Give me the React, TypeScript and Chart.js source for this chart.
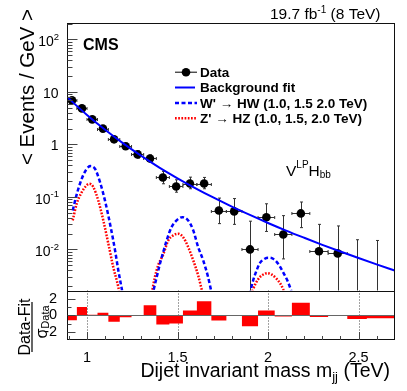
import React, { useEffect, useRef } from "react";
import { Chart, registerables } from "chart.js";

Chart.register(...registerables);

const FONT = "'Liberation Sans', Arial, Helvetica, sans-serif";

// ---- axis ranges ----
const xMin = 0.89;
const xMax = 2.7;
const yMin = 0.00165;
const yMax = 210;
const rMin = -3;
const rMax = 3;

// ---- dijet mass bins (TeV) ----
const binEdges = [0.89, 0.944, 1.0, 1.058, 1.118, 1.181, 1.246, 1.313, 1.383, 1.455, 1.53, 1.607, 1.687, 1.77, 1.856, 1.945, 2.037, 2.132, 2.231, 2.332, 2.438, 2.546, 2.659, 2.775];

// ---- data ----
const dataX = [0.917, 0.972, 1.029, 1.088, 1.1495, 1.2135, 1.2795, 1.348, 1.419, 1.4925, 1.5685, 1.647, 1.7285, 1.813, 1.9005, 1.991, 2.0845, 2.1815, 2.2815, 2.385, 2.492, 2.6025];
const dataY = [6.9, 4.85, 3.0, 2.0, 1.25, 0.92, 0.645, 0.54, 0.235, 0.158, 0.18, 0.18, 0.055, 0.053, 0.010, 0.041, 0.0193, 0.0485, 0.0092, 0.0084, 0, 0];
const dataYLow = [6.6, 4.6, 2.8, 1.82, 1.1, 0.8, 0.55, 0.46, 0.178, 0.123, 0.143, 0.143, 0.031, 0.030, 0, 0.022, 0.0066, 0.026, 0, 0, 0, 0];
const dataYHigh = [7.25, 5.15, 3.2, 2.2, 1.4, 1.05, 0.75, 0.63, 0.306, 0.212, 0.238, 0.235, 0.095, 0.093, 0.0345, 0.074, 0.044, 0.080, 0.030, 0.028, 0.0153, 0.0148];

// ---- (Data-Fit)/sigma per bin ----
const residuals = [-0.6, 1.0, 0.05, 0.3, -0.8, -0.25, 0.0, 1.2, -1.13, -1.0, 0.57, 1.7, -0.65, -0.05, -1.33, 0.57, -0.15, 1.53, -0.2, 0.0, -0.45, -0.36, -0.36];

// ---- background fit ----
const fitX = [0.89, 1.0, 1.1, 1.2, 1.3, 1.4, 1.5, 1.6, 1.7, 1.8, 1.9, 2.0, 2.1, 2.2, 2.3, 2.4, 2.5, 2.6, 2.7];
const fitY = [7.96, 3.64, 1.9, 1.045, 0.603, 0.362, 0.2265, 0.1459, 0.0965, 0.0653, 0.04533, 0.03191, 0.02284, 0.01665, 0.01224, 0.00912, 0.00685, 0.00519, 0.00396];

// ---- W' -> HW signals (1.0, 1.5, 2.0 TeV) ----
const wX1 = [0.921, 0.939, 0.961, 0.983, 1.007, 1.02, 1.044, 1.072, 1.099, 1.127, 1.155, 1.173, 1.192, 1.21];
const wY1 = [0.0553, 0.0991, 0.178, 0.277, 0.37, 0.386, 0.344, 0.191, 0.0858, 0.0309, 0.00957, 0.00398, 0.00178, 0.0008];
const wX2 = [1.36, 1.385, 1.403, 1.421, 1.44, 1.467, 1.495, 1.527, 1.559, 1.587, 1.614, 1.642, 1.669, 1.69];
const wY2 = [0.0013, 0.00297, 0.00534, 0.00889, 0.0148, 0.0266, 0.0357, 0.0412, 0.0357, 0.023, 0.0111, 0.00617, 0.00297, 0.0014];
const wX3 = [1.898, 1.918, 1.937, 1.955, 1.982, 2.001, 2.028, 2.056, 2.083, 2.111, 2.135];
const wY3 = [0.0014, 0.00257, 0.00398, 0.00548, 0.00665, 0.00695, 0.00665, 0.00534, 0.0037, 0.00238, 0.0014];

// ---- Z' -> HZ signals (1.0, 1.5, 2.0 TeV) ----
const zX1 = [0.921, 0.943, 0.971, 0.998, 1.013, 1.035, 1.062, 1.09, 1.118, 1.145, 1.173, 1.19];
const zY1 = [0.0357, 0.0742, 0.123, 0.166, 0.178, 0.154, 0.0858, 0.0357, 0.0128, 0.0046, 0.00191, 0.0009];
const zX2 = [1.355, 1.375, 1.393, 1.421, 1.449, 1.476, 1.504, 1.531, 1.559, 1.587, 1.614, 1.64];
const zY2 = [0.0013, 0.00297, 0.00496, 0.008, 0.0148, 0.0185, 0.0199, 0.0171, 0.0111, 0.00617, 0.0032, 0.0014];
const zX3 = [1.907, 1.931, 1.955, 1.982, 1.997, 2.019, 2.047, 2.074, 2.095];
const zY3 = [0.0014, 0.00222, 0.00297, 0.00344, 0.00354, 0.00334, 0.00277, 0.00206, 0.0014];

// ---- tick labels ----
const logTickValues = [100, 10, 1, 0.1, 0.01];
const logTickBase = ["10", "10", "1", "10", "10"];
const logTickExp = ["2", "", "", "-1", "-2"];
const xGridValues = [1, 1.5, 2, 2.5];
const residualTickValues = [-2, 0, 2];

// ---- legend ----
const legendLabels = ["Data", "Background fit", "W' \u2192 HW (1.0, 1.5 2.0 TeV)", "Z' \u2192 HZ (1.0, 1.5, 2.0 TeV)"];

type Part = { t: string; size: number; bold?: boolean; dy?: number };

function drawParts(ctx: CanvasRenderingContext2D, parts: Part[], x: number, y: number, align: "left" | "right" | "center") {
  let total = 0;
  const ws = parts.map((p) => {
    ctx.font = `${p.bold ? "bold " : ""}${p.size}px ${FONT}`;
    const w = ctx.measureText(p.t).width;
    total += w;
    return w;
  });
  let cx = align === "left" ? x : align === "right" ? x - total : x - total / 2;
  ctx.textAlign = "left";
  ctx.textBaseline = "alphabetic";
  parts.forEach((p, i) => {
    ctx.font = `${p.bold ? "bold " : ""}${p.size}px ${FONT}`;
    ctx.fillText(p.t, cx, y + (p.dy || 0));
    cx += ws[i];
  });
}

function seg(ctx: CanvasRenderingContext2D, x1: number, y1: number, x2: number, y2: number) {
  ctx.beginPath();
  ctx.moveTo(x1, y1);
  ctx.lineTo(x2, y2);
  ctx.stroke();
}

const pts = (xs: number[], ys: number[]) => xs.map((x, i) => ({ x, y: ys[i] }));

const overlayPlugin = {
  id: "overlay",
  beforeDatasetDraw(chart: any, args: any) {
    const ds = chart.data.datasets[args.index];
    const ys = chart.scales[ds.yAxisID];
    const ctx = chart.ctx;
    ctx.save();
    ctx.beginPath();
    ctx.rect(chart.chartArea.left, ys.top, chart.chartArea.right - chart.chartArea.left, ys.bottom - ys.top);
    ctx.clip();
  },
  afterDatasetDraw(chart: any) {
    chart.ctx.restore();
  },
  beforeDatasetsDraw(chart: any) {
    const ctx: CanvasRenderingContext2D = chart.ctx;
    const x = chart.scales.x;
    const y = chart.scales.y;
    const yr = chart.scales.yr;
    ctx.save();
    // residual dotted grid
    ctx.strokeStyle = "#444";
    ctx.lineWidth = 1;
    ctx.setLineDash([1, 2]);
    for (const v of xGridValues) {
      const px = Math.round(x.getPixelForValue(v)) + 0.5;
      seg(ctx, px, yr.top, px, yr.bottom);
    }
    ctx.setLineDash([]);
    // error bars (main panel)
    ctx.beginPath();
    ctx.rect(x.left, y.top, x.right - x.left, y.bottom - y.top);
    ctx.clip();
    ctx.strokeStyle = "#333";
    ctx.lineWidth = 1;
    for (let i = 0; i < dataX.length; i++) {
      const cx = Math.round(x.getPixelForValue(dataX[i])) + 0.5;
      const top = y.getPixelForValue(dataYHigh[i]);
      const bot = dataYLow[i] > 0 ? y.getPixelForValue(dataYLow[i]) : y.bottom + 2;
      seg(ctx, cx, top, cx, bot);
      seg(ctx, cx - 1.5, top, cx + 1.5, top);
      if (dataYLow[i] > 0) seg(ctx, cx - 1.5, bot, cx + 1.5, bot);
      if (dataY[i] > 0) {
        const cy = Math.round(y.getPixelForValue(dataY[i])) + 0.5;
        const xl = x.getPixelForValue(binEdges[i]);
        const xr = x.getPixelForValue(binEdges[i + 1]);
        seg(ctx, xl, cy, xr, cy);
        seg(ctx, xl, cy - 1.5, xl, cy + 1.5);
        seg(ctx, xr, cy - 1.5, xr, cy + 1.5);
      }
    }
    ctx.restore();
  },
  afterDatasetsDraw(chart: any) {
    const ctx: CanvasRenderingContext2D = chart.ctx;
    const x = chart.scales.x;
    const y = chart.scales.y;
    const yr = chart.scales.yr;
    ctx.save();
    const L = Math.round(x.left) + 0.5;
    const R = Math.round(x.right) - 0.5;
    // zero line of residual
    ctx.strokeStyle = "#666";
    ctx.lineWidth = 1;
    const z = Math.round(yr.getPixelForValue(0)) + 0.5;
    seg(ctx, L, z, R, z);
    // frames
    ctx.strokeStyle = "#111";
    ctx.strokeRect(L, Math.round(y.top) + 0.5, R - L, Math.round(y.bottom) - Math.round(y.top));
    ctx.strokeRect(L, Math.round(yr.top) + 0.5, R - L, Math.round(yr.bottom) - Math.round(yr.top) - 1);
    // log ticks
    ctx.strokeStyle = "#444";
    for (let d = -3; d <= 2; d++) {
      for (let m = 1; m <= 9; m++) {
        const v = m * Math.pow(10, d);
        if (v <= yMin || v >= yMax) continue;
        const py = Math.round(y.getPixelForValue(v)) + 0.5;
        seg(ctx, L, py, L + (m === 1 ? 10 : 5), py);
      }
    }
    // residual y ticks
    for (let v = rMin + 1; v <= rMax - 1; v++) {
      const py = Math.round(yr.getPixelForValue(v)) + 0.5;
      seg(ctx, L, py, L + (v % 2 === 0 ? 8 : 4), py);
    }
    // residual x ticks
    for (let k = 9; k <= 27; k++) {
      const px = Math.round(x.getPixelForValue(k / 10)) + 0.5;
      if (px <= L + 1 || px >= R - 1) continue;
      seg(ctx, px, yr.bottom, px, yr.bottom - (k % 5 === 0 ? 8 : 4));
    }
    ctx.restore();
  },
  afterDraw(chart: any) {
    const ctx: CanvasRenderingContext2D = chart.ctx;
    const y = chart.scales.y;
    ctx.save();
    ctx.fillStyle = "#000";
    // log axis labels
    for (let i = 0; i < logTickValues.length; i++) {
      const py = y.getPixelForValue(logTickValues[i]);
      if (logTickExp[i]) {
        drawParts(ctx, [{ t: logTickBase[i], size: 14 }, { t: logTickExp[i], size: 9.5, dy: -6.5 }], 59, py + 6.7, "right");
      } else {
        drawParts(ctx, [{ t: logTickBase[i], size: 14 }], 58.5, py + 5.8, "right");
      }
    }
    // y title
    ctx.save();
    ctx.translate(34, 9);
    ctx.rotate(-Math.PI / 2);
    drawParts(ctx, [{ t: "< Events / GeV >", size: 20.5 }], 0, 0, "right");
    ctx.restore();
    // residual title
    ctx.save();
    ctx.translate(30, 327);
    ctx.rotate(-Math.PI / 2);
    drawParts(ctx, [{ t: "Data-Fit", size: 16 }], 0, 0, "center");
    ctx.restore();
    ctx.strokeStyle = "#000";
    ctx.lineWidth = 1.2;
    seg(ctx, 32, 302, 32, 352);
    ctx.save();
    ctx.translate(46.5, 322);
    ctx.rotate(-Math.PI / 2);
    drawParts(ctx, [{ t: "\u03c3", size: 16 }, { t: "Data", size: 11, dy: 2.5 }], 0, 0, "center");
    ctx.restore();
    // x title
    drawParts(ctx, [{ t: "Dijet invariant mass m", size: 19.5 }, { t: "jj", size: 13, dy: 4 }, { t: " (TeV)", size: 19.5 }], 390, 376.5, "right");
    // lumi
    drawParts(ctx, [{ t: "19.7 fb", size: 15.5 }, { t: "-1", size: 10, dy: -6 }, { t: " (8 TeV)", size: 15.5 }], 380.5, 19, "right");
    // CMS
    drawParts(ctx, [{ t: "CMS", size: 16, bold: true }], 83, 50, "left");
    // category label
    drawParts(ctx, [{ t: "V", size: 15.5 }, { t: "LP", size: 10, dy: -7.7 }, { t: "H", size: 15.5 }, { t: "bb", size: 10, dy: 2.3 }], 286, 176, "left");
    // legend
    const rows = [71.7, 87.5, 103, 118.3];
    const lx = 200;
    ctx.strokeStyle = "#000";
    ctx.lineWidth = 1;
    seg(ctx, 175, rows[0] + 0.5, 197, rows[0] + 0.5);
    ctx.beginPath();
    ctx.arc(186, rows[0] + 0.5, 4.3, 0, Math.PI * 2);
    ctx.fill();
    ctx.strokeStyle = "#0000ff";
    ctx.lineWidth = 2;
    seg(ctx, 175, rows[1], 195, rows[1]);
    ctx.lineWidth = 2.5;
    ctx.setLineDash([4, 2.5]);
    seg(ctx, 175, rows[2], 197, rows[2]);
    ctx.strokeStyle = "#ff0000";
    ctx.setLineDash([1.7, 1.5]);
    seg(ctx, 175, rows[3], 197, rows[3]);
    ctx.setLineDash([]);
    const lsz = 13.5;
    drawParts(ctx, [{ t: legendLabels[0], size: lsz, bold: true }], lx, rows[0] + 4.9, "left");
    drawParts(ctx, [{ t: legendLabels[1], size: lsz, bold: true }], lx, rows[1] + 4.9, "left");
    for (let r = 2; r < 4; r++) {
      const [a, rest] = legendLabels[r].split(" \u2192 ");
      drawParts(ctx, [{ t: a, size: lsz, bold: true }, { t: " \u2192 ", size: lsz }, { t: rest, size: lsz, bold: true }], lx, rows[r] + 4.9, "left");
    }
    ctx.restore();
  },
};

export default function App() {
  const ref = useRef<HTMLCanvasElement>(null);
  useEffect(() => {
    const sigW = { borderColor: "#0000ff", borderWidth: 2.5, borderDash: [4, 2.5], pointRadius: 0, cubicInterpolationMode: "monotone", yAxisID: "y", xAxisID: "x", order: 3, fill: false };
    const sigZ = { borderColor: "#ff0000", borderWidth: 2.5, borderDash: [1.7, 1.5], pointRadius: 0, cubicInterpolationMode: "monotone", yAxisID: "y", xAxisID: "x", order: 3, fill: false };
    const resPts = binEdges.map((e, i) => ({ x: e, y: residuals[Math.min(i, residuals.length - 1)] }));
    const chart = new Chart(ref.current as HTMLCanvasElement, {
      type: "line",
      data: {
        datasets: [
          { label: "Background fit", data: pts(fitX, fitY), borderColor: "#0000ff", borderWidth: 2, pointRadius: 0, cubicInterpolationMode: "monotone", yAxisID: "y", xAxisID: "x", order: 1, fill: false },
          { label: "Data", data: pts(dataX, dataY).filter((p) => p.y > 0), showLine: false, pointRadius: 4.3, pointBackgroundColor: "#000", pointBorderWidth: 0, borderColor: "#000", yAxisID: "y", xAxisID: "x", order: 2 },
          { label: "W1", data: pts(wX1, wY1), ...sigW },
          { label: "W2", data: pts(wX2, wY2), ...sigW },
          { label: "W3", data: pts(wX3, wY3), ...sigW },
          { label: "Z1", data: pts(zX1, zY1), ...sigZ },
          { label: "Z2", data: pts(zX2, zY2), ...sigZ },
          { label: "Z3", data: pts(zX3, zY3), ...sigZ },
          { label: "Residual", data: resPts, stepped: "before", fill: "origin", backgroundColor: "#ff0000", borderColor: "rgba(0,0,0,0)", borderWidth: 1, pointRadius: 0, yAxisID: "yr", xAxisID: "x", order: 4 },
        ] as any,
      },
      options: {
        animation: false,
        responsive: false,
        devicePixelRatio: 1,
        events: [],
        layout: { padding: { left: 0, top: 22.5, right: 12.3, bottom: 0 } },
        plugins: { legend: { display: false }, tooltip: { enabled: false } },
        scales: {
          x: {
            type: "linear",
            position: "bottom",
            min: xMin,
            max: xMax,
            grid: { display: false },
            border: { display: false },
            ticks: { stepSize: 0.5, includeBounds: false, autoSkip: false, maxRotation: 0, minRotation: 0, color: "#000", font: { family: FONT, size: 14.5 }, padding: 0.8, callback: (v: any) => String(v) },
            afterFit: (s: any) => { s.height = 51; },
          },
          y: {
            type: "logarithmic",
            position: "left",
            stack: "panels",
            stackWeight: 268,
            weight: 1,
            min: yMin,
            max: yMax,
            grid: { display: false },
            border: { display: false },
            ticks: { display: false },
            afterFit: (s: any) => { s.width = 67.1; },
          },
          yr: {
            type: "linear",
            position: "left",
            stack: "panels",
            stackWeight: 49.5,
            weight: 0,
            min: rMin,
            max: rMax,
            grid: { display: false },
            border: { display: false },
            ticks: { autoSkip: false, color: "#000", font: { family: FONT, size: 14.5 }, padding: 2, callback: (v: any) => String(v) },
            afterBuildTicks: (s: any) => { s.ticks = residualTickValues.map((v) => ({ value: v })); },
            afterFit: (s: any) => { s.width = 67.1; },
          },
        } as any,
      },
      plugins: [overlayPlugin as any],
    });
    return () => chart.destroy();
  }, []);
  return (
    <div style={{ position: "absolute", left: 0, top: 0, width: 407, height: 391, background: "#fff" }}>
      <canvas ref={ref} width={407} height={391} style={{ display: "block", width: 407, height: 391 }} />
    </div>
  );
}
